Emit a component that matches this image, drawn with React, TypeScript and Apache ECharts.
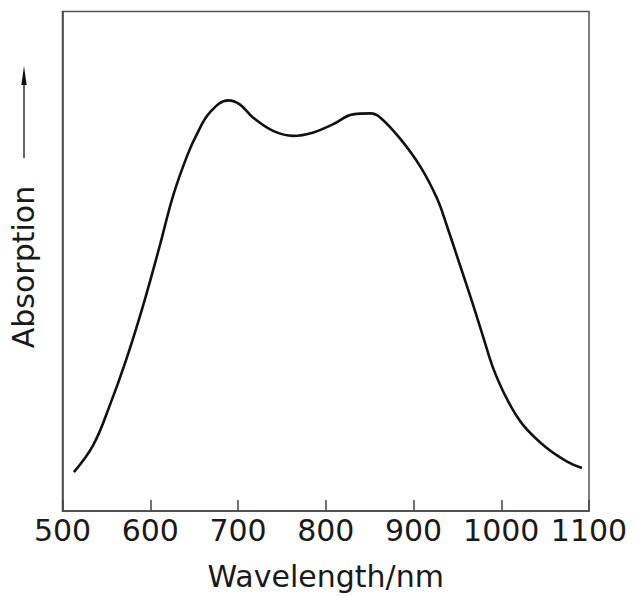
import React, { useEffect, useRef } from "react";
import * as echarts from "echarts";

const wavelengths = [513, 535, 554, 573, 592, 611, 626, 642, 653, 668, 689, 702, 717, 740, 763, 786, 808, 831, 851, 862, 885, 908, 927, 938, 953, 968, 980, 991, 1006, 1025, 1052, 1075, 1092];
const absorption = [7.8, 13.2, 21.2, 30.5, 41.2, 53.2, 63.1, 71.1, 75.4, 79.8, 82.2, 81.4, 78.8, 76.1, 75.1, 75.8, 77.4, 79.4, 79.6, 78.8, 74.5, 68.9, 62.5, 57.1, 49.2, 41.2, 34.5, 28.5, 22.6, 17.2, 12.6, 9.9, 8.6];
const xTickMin = 500;
const xTickMax = 1100;
const xTickStep = 100;
const xAxisTitle = "Wavelength/nm";
const yAxisTitle = "Absorption";

const FONT = "DejaVu Sans";

export default function App() {
  const ref = useRef<HTMLDivElement>(null);
  useEffect(() => {
    document.body.style.margin = "0";
    if (!ref.current) return;
    const chart = echarts.init(ref.current, undefined, { renderer: "svg" });
    const data = wavelengths.map((w, i) => [w, absorption[i]]);
    chart.setOption({
      animation: false,
      backgroundColor: "#ffffff",
      grid: {
        left: 62.5,
        right: 45,
        top: 11.5,
        bottom: 83,
        show: true,
        borderColor: "#555",
        borderWidth: 1.5,
      },
      xAxis: {
        type: "value",
        min: xTickMin,
        max: xTickMax,
        interval: xTickStep,
        name: xAxisTitle,
        nameLocation: "middle",
        nameGap: 50,
        nameTextStyle: { fontFamily: FONT, fontSize: 30, color: "#1a1a1a" },
        axisLine: { show: true, lineStyle: { color: "#444", width: 1.5 } },
        axisTick: { show: true, inside: true, length: 11, lineStyle: { color: "#444", width: 1.5 } },
        axisLabel: {
          fontFamily: FONT,
          fontSize: 30,
          color: "#1a1a1a",
          margin: 4,
          formatter: (v: number) => String(v),
        },
        splitLine: { show: false },
      },
      yAxis: {
        type: "value",
        min: 0,
        max: 100,
        axisLine: { show: true, lineStyle: { color: "#444", width: 1.5 } },
        axisTick: { show: false },
        axisLabel: { show: false },
        splitLine: { show: false },
      },
      graphic: [
        {
          type: "text",
          x: 23,
          y: 267,
          rotation: Math.PI / 2,
          style: {
            text: yAxisTitle,
            fontFamily: FONT,
            fontSize: 30,
            fill: "#1a1a1a",
            align: "center",
            verticalAlign: "middle",
          },
        },
        {
          type: "line",
          shape: { x1: 24, y1: 80, x2: 24, y2: 158 },
          style: { stroke: "#333", lineWidth: 1.5 },
        },
        {
          type: "polygon",
          shape: { points: [[24, 66], [21.3, 85], [26.7, 85]] },
          style: { fill: "#111" },
        },
      ],
      series: [
        {
          type: "line",
          data,
          smooth: 0.4,
          showSymbol: false,
          lineStyle: { color: "#111", width: 2.6 },
        },
      ],
    });
    return () => chart.dispose();
  }, []);
  return <div ref={ref} style={{ width: 634, height: 596 }} />;
}
